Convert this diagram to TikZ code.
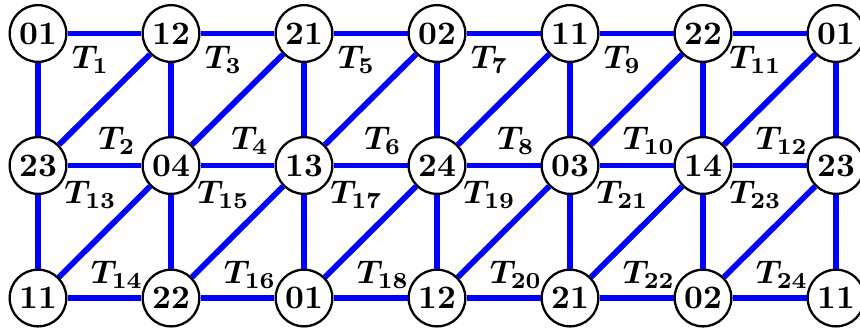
\documentclass[tikz,border=0pt]{standalone}
\usepackage{amsmath}
\usepackage{amssymb}
\usepackage{tikz}

\begin{document}
\begin{tikzpicture}[x=0.305pt,y=0.305pt,
  vtx/.style={draw,line width=0.7pt,circle,fill=white,minimum size=17.3pt,inner sep=0pt,font=\bfseries},
  edge/.style={blue,line width=1.75pt},
  tri/.style={inner sep=0pt,font=\boldmath}]

\useasboundingbox (0,0) rectangle (860,331);

% Top row
\foreach \lab [count=\i from 0] in {01,12,21,02,11,22,01}
  \node[vtx] (t\i) at (38+133*\i,297.5) {\lab};

% Middle row
\foreach \lab [count=\i from 0] in {23,04,13,24,03,14,23}
  \node[vtx] (m\i) at (38+133*\i,165.5) {\lab};

% Bottom row
\foreach \lab [count=\i from 0] in {11,22,01,12,21,02,11}
  \node[vtx] (b\i) at (38+133*\i,33) {\lab};

% Horizontal and diagonal edges
\foreach \i/\j in {0/1,1/2,2/3,3/4,4/5,5/6} {
  \draw[edge] (t\i) -- (t\j);
  \draw[edge] (m\i) -- (m\j);
  \draw[edge] (b\i) -- (b\j);
  \draw[edge] (m\i) -- (t\j);
  \draw[edge] (b\i) -- (m\j);
}

% Vertical edges
\foreach \i in {0,...,6} {
  \draw[edge] (t\i) -- (m\i);
  \draw[edge] (m\i) -- (b\i);
}

% Triangle labels
\foreach \i in {0,...,5} {
  \pgfmathtruncatemacro{\a}{2*\i+1}
  \pgfmathtruncatemacro{\b}{2*\i+2}
  \pgfmathtruncatemacro{\c}{2*\i+13}
  \pgfmathtruncatemacro{\d}{2*\i+14}
  \node[tri] (l\a) at (90.5+133*\i,271) {$T_{\a}$};
  \node[tri] (l\b) at (117+133*\i,190) {$T_{\b}$};
  \node[tri] (l\c) at (90.5+133*\i,136.5) {$T_{\c}$};
  \node[tri] (l\d) at (117+133*\i,56.5) {$T_{\d}$};
}

\end{tikzpicture}
\end{document}
